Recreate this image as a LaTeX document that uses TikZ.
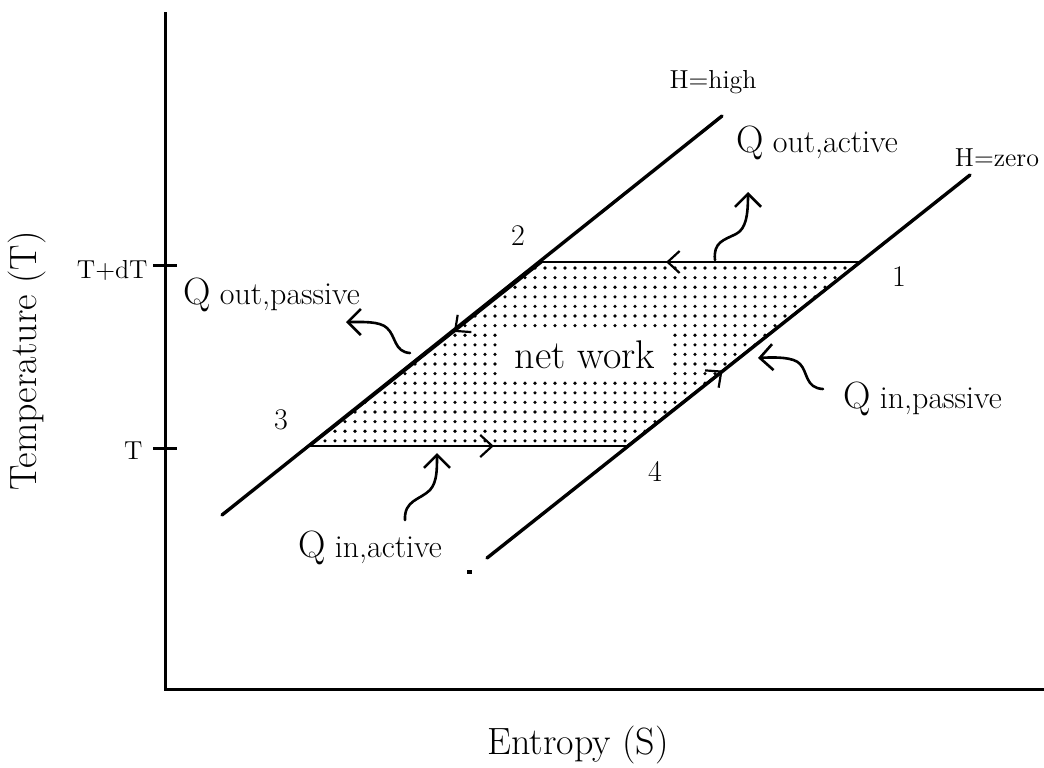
\documentclass[tikz,border=0pt]{standalone}
\usetikzlibrary{arrows.meta,decorations.markings}

\newcommand{\tamano}[1]{\fontsize{#1}{#1}\selectfont}
\newcommand{\calor}[1]{{\tamano{19}Q} {\tamano{16}#1}}

\begin{document}
\begin{tikzpicture}[
    x=0.5pt, y=-0.5pt,
    eje/.style={line width=1.5pt, draw=black},
    linea/.style={line width=1.7pt, draw=black, line cap=round},
    ciclo/.style={line width=1.1pt, draw=black, postaction={decorate},
        decoration={markings, mark=at position #1 with {\arrow{Straight Barb[length=6pt,width=11pt]}}}},
    ciclo/.default=0.5,
    calor/.style={line width=1.3pt, draw=black, line cap=round, -{Straight Barb[length=6.5pt,width=13pt]}},
    etiqueta/.style={inner sep=0pt, font=\tamano{15}},
    rotulo/.style={inner sep=0pt, font=\tamano{19}}
]
    \useasboundingbox (0,0) rectangle (1044,767);

    % --- EJES ---
    \coordinate (origen) at (165,689);
    \coordinate (ejey) at (165,12);
    \coordinate (ejex) at (1044,689);
    \draw[eje] (ejey) -- (origen) -- (ejex);
    \draw[eje] (153,265) -- (177,265);
    \draw[eje] (153,448) -- (177,448);
    \node[rotulo, rotate=90] (ty) at (27,361) {Temperature (T)};
    \node[rotulo] (sx) at (578,745) {Entropy (S)};
    \node[etiqueta, anchor=east, font=\tamano{13}] (tdt) at (148,270) {T+dT};
    \node[etiqueta, anchor=east, font=\tamano{13}] (tt) at (143,451) {T};

    % --- ESQUINAS DEL CICLO ---
    \coordinate (c1) at (860,262);
    \coordinate (c2) at (542,262);
    \coordinate (c3) at (310,446);
    \coordinate (c4) at (627,446);

    % --- AREA PUNTEADA (TRABAJO NETO) ---
    \begin{scope}
        \clip (c2) -- (c1) -- (c4) -- (c3) -- cycle;
        \foreach \i in {0,...,56}
            \foreach \j in {0,...,18}
                \fill (315+10*\i, 268+9.6*\j) circle (0.9pt);
    \end{scope}
    \node[rotulo, font=\tamano{20}, fill=white, minimum width=83pt, minimum height=22.5pt] (trabajo) at (585,355) {net work};

    % --- LINEAS H=high Y H=zero ---
    \coordinate (ah0) at (222,515);
    \coordinate (ah1) at (722,116);
    \coordinate (az0) at (487,558);
    \coordinate (az1) at (970,175);
    \draw[linea] (ah0) -- (ah1);
    \draw[linea] (az0) -- (az1);
    \fill (467,570) rectangle (472,574);
    \node[etiqueta, font=\tamano{13}, anchor=base] (hh) at (713,88) {H=high};
    \node[etiqueta, font=\tamano{13}, anchor=base] (hz) at (997,166) {H=zero};

    % --- CICLO 1 -> 2 -> 3 -> 4 ---
    \draw[ciclo=0.61] (c1) -- (c2);
    \draw[ciclo=0.38] (c2) -- (c3);
    \draw[ciclo=0.58] (c3) -- (c4);
    \draw[ciclo=0.41] (c4) -- (c1);
    \node[etiqueta, font=\tamano{15}] (n1) at (899,277) {1};
    \node[etiqueta, font=\tamano{15}] (n2) at (518,236) {2};
    \node[etiqueta, font=\tamano{15}] (n3) at (281,420) {3};
    \node[etiqueta, font=\tamano{15}] (n4) at (655,471) {4};

    % --- FLUJOS DE CALOR ---
    \coordinate (qoa0) at (715,260);
    \coordinate (qoa1) at (748,192);
    \draw[calor] (qoa0) .. controls (713,242) and (724,240) .. (736,234) .. controls (746,229) and (748,215) .. (qoa1);
    \node[etiqueta, anchor=base west] (qoa) at (736,152) {\calor{out,active}};

    \coordinate (qop0) at (410,353);
    \coordinate (qop1) at (346,322);
    \draw[calor] (qop0) .. controls (394,352) and (396,336) .. (387,328) .. controls (380,321) and (362,322) .. (qop1);
    \node[etiqueta, anchor=base west] (qop) at (183,304) {\calor{out,passive}};

    \coordinate (qip0) at (823,389);
    \coordinate (qip1) at (758,358);
    \draw[calor] (qip0) .. controls (805,388) and (808,372) .. (800,364) .. controls (794,357) and (775,357) .. (qip1);
    \node[etiqueta, anchor=base west] (qip) at (843,408) {\calor{in,passive}};

    \coordinate (qia0) at (405,520);
    \coordinate (qia1) at (437,453);
    \draw[calor] (qia0) .. controls (404,500) and (420,500) .. (430,490) .. controls (437,482) and (437,470) .. (qia1);
    \node[etiqueta, anchor=base west] (qia) at (298,557) {\calor{in,active}};
\end{tikzpicture}
\end{document}
